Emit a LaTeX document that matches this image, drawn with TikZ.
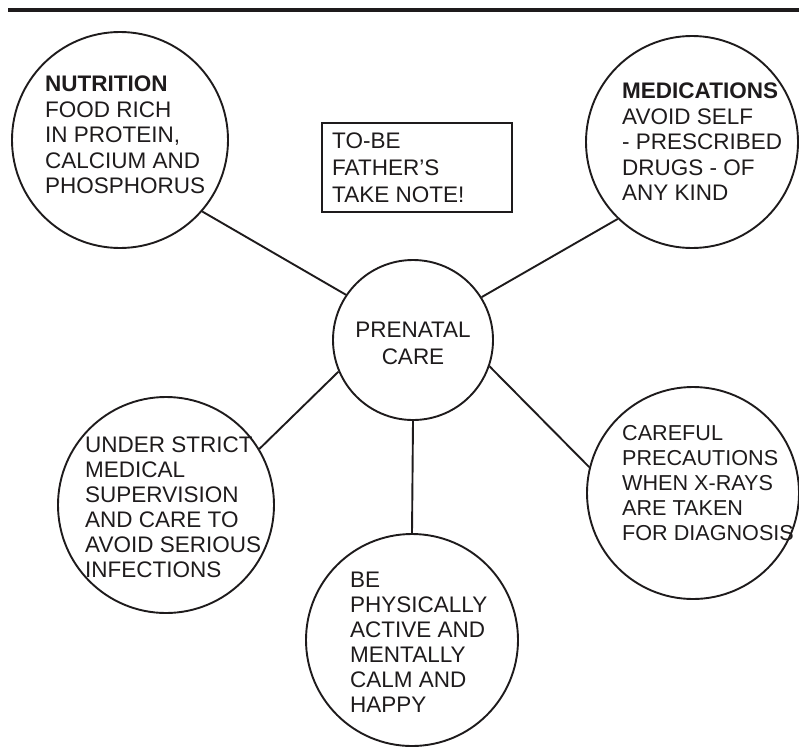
\documentclass[tikz,border=0pt]{standalone}
\usepackage{fontspec}
\setmainfont{Liberation Sans}
\definecolor{ink}{RGB}{30,27,28}
\begin{document}
\begin{tikzpicture}[x=1pt,y=-1pt,
  bubble/.style={circle, draw=ink, line width=1.9pt, inner sep=0pt, minimum size=#1},
  txt/.style={anchor=north west, inner sep=0pt, align=left, text=ink,
              font=\fontsize{22.5}{25.5}\selectfont},
  link/.style={draw=ink, line width=1.9pt}]
\useasboundingbox (0,0) rectangle (799,747);

% rule across the top
\draw[ink, line width=3.8pt] (8,10) -- (799,10);

% hub and the five surrounding bubbles
\node[bubble=160pt] (hub) at (413,340) {};
\node[bubble=216pt] (food) at (120,140) {};
\node[bubble=212pt] (meds) at (692,142) {};
\node[bubble=216pt] (infect) at (166,505) {};
\node[bubble=212pt] (xray) at (693,493) {};
\node[bubble=212pt] (active) at (412,640) {};

% note box
\node[draw=ink, line width=2.2pt, minimum width=190pt, minimum height=89pt,
      inner sep=0pt, anchor=north west] (note) at (321,122) {};

% texts
\node[txt, anchor=north, align=center, font=\fontsize{22.5}{27}\selectfont]
  (hubtxt) at (413,322) {PRENATAL\\CARE};
\node[txt] (foodtxt) at (45,76)
  {\textbf{NUTRITION}\\FOOD RICH\\IN PROTEIN,\\CALCIUM AND\\PHOSPHORUS};
\node[txt] (medstxt) at (622,83)
  {\textbf{MEDICATIONS}\\AVOID SELF\\- PRESCRIBED\\DRUGS - OF\\ANY KIND};
\node[txt, font=\fontsize{22.5}{27}\selectfont] (notetxt) at (332,133)
  {TO-BE\\FATHER’S\\TAKE NOTE!};
\node[txt, font=\fontsize{22.5}{25}\selectfont] (infecttxt) at (85,437)
  {UNDER STRICT\\MEDICAL\\SUPERVISION\\AND CARE TO\\AVOID SERIOUS\\INFECTIONS};
\node[txt, font=\fontsize{21.6}{25}\selectfont] (xraytxt) at (622,425)
  {CAREFUL\\PRECAUTIONS\\WHEN X-RAYS\\ARE TAKEN\\FOR DIAGNOSIS};
\node[txt, font=\fontsize{22.5}{25}\selectfont] (activetxt) at (350,572)
  {BE\\PHYSICALLY\\ACTIVE AND\\MENTALLY\\CALM AND\\HAPPY};

% spokes
\draw[link] (food.-41) -- (hub.146);
\draw[link] (meds.226) -- (hub.32);
\draw[link] (infect.31) -- (hub.203);
\draw[link] (xray.166) -- (hub.-19);
\draw[link] (hub.south) -- (active.north);
\end{tikzpicture}
\end{document}
